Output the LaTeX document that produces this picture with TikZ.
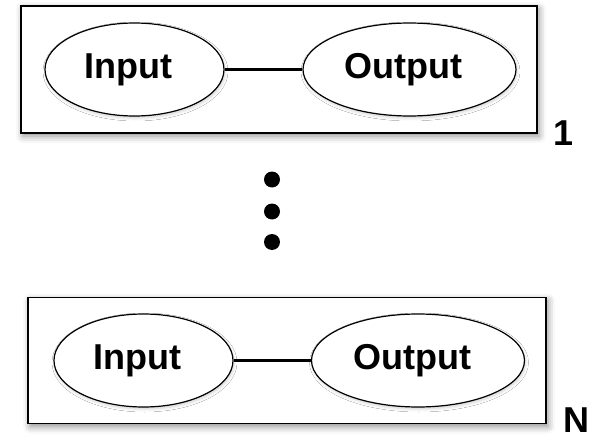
\documentclass[tikz,border=0pt]{standalone}
\usepackage{fontspec}
\setmainfont{Liberation Sans}
\usetikzlibrary{shadows.blur,shapes.geometric}
\tikzset{
  frame/.style={draw=black, line width=1.8pt, fill=white,
    blur shadow={shadow xshift=2pt, shadow yshift=-3pt, shadow blur radius=7pt, shadow opacity=45}},
  ell/.style={ellipse, draw=black, line width=1.2pt, fill=white, inner sep=0pt,
    minimum width=179pt, minimum height=93pt, font=\fontsize{36}{40}\selectfont\bfseries,
    blur shadow={shadow xshift=1pt, shadow yshift=-2pt, shadow blur radius=3pt, shadow opacity=18}},
  ellw/.style={ell, minimum width=213pt},
  link/.style={line width=3.2pt, draw=black},
  idx/.style={font=\fontsize{36}{40}\selectfont\bfseries, inner sep=0pt, anchor=base},
  dotmark/.style={circle, fill=black, inner sep=0pt, minimum size=16pt}
}
\begin{document}
\begin{tikzpicture}[x=1pt, y=-1pt]
\useasboundingbox (0,0) rectangle (598,436);
% top block
\node[frame, minimum width=516pt, minimum height=127pt, inner sep=0pt] (box1) at (279,69.5) {};
\node[ell] (in1) at (134.5,69.5) {\hspace*{-12pt}Input};
\node[ellw] (out1) at (409.5,69.5) {\hspace*{-12pt}Output};
\draw[link] (in1) -- (out1);
\node[idx] (l1) at (564,146) {1};
% dots
\node[dotmark] (d1) at (272,179.5) {};
\node[dotmark] (d2) at (272,211.5) {};
\node[dotmark] (d3) at (272,242) {};
% bottom block
\node[frame, minimum width=518pt, minimum height=126pt, inner sep=0pt] (box2) at (287.2,360.5) {};
\node[ell] (in2) at (143.5,360.5) {\hspace*{-12pt}Input};
\node[ellw] (out2) at (418,360.5) {\hspace*{-12pt}Output};
\draw[link] (in2) -- (out2);
\node[idx] (lN) at (576,432.5) {N};
\end{tikzpicture}
\end{document}
